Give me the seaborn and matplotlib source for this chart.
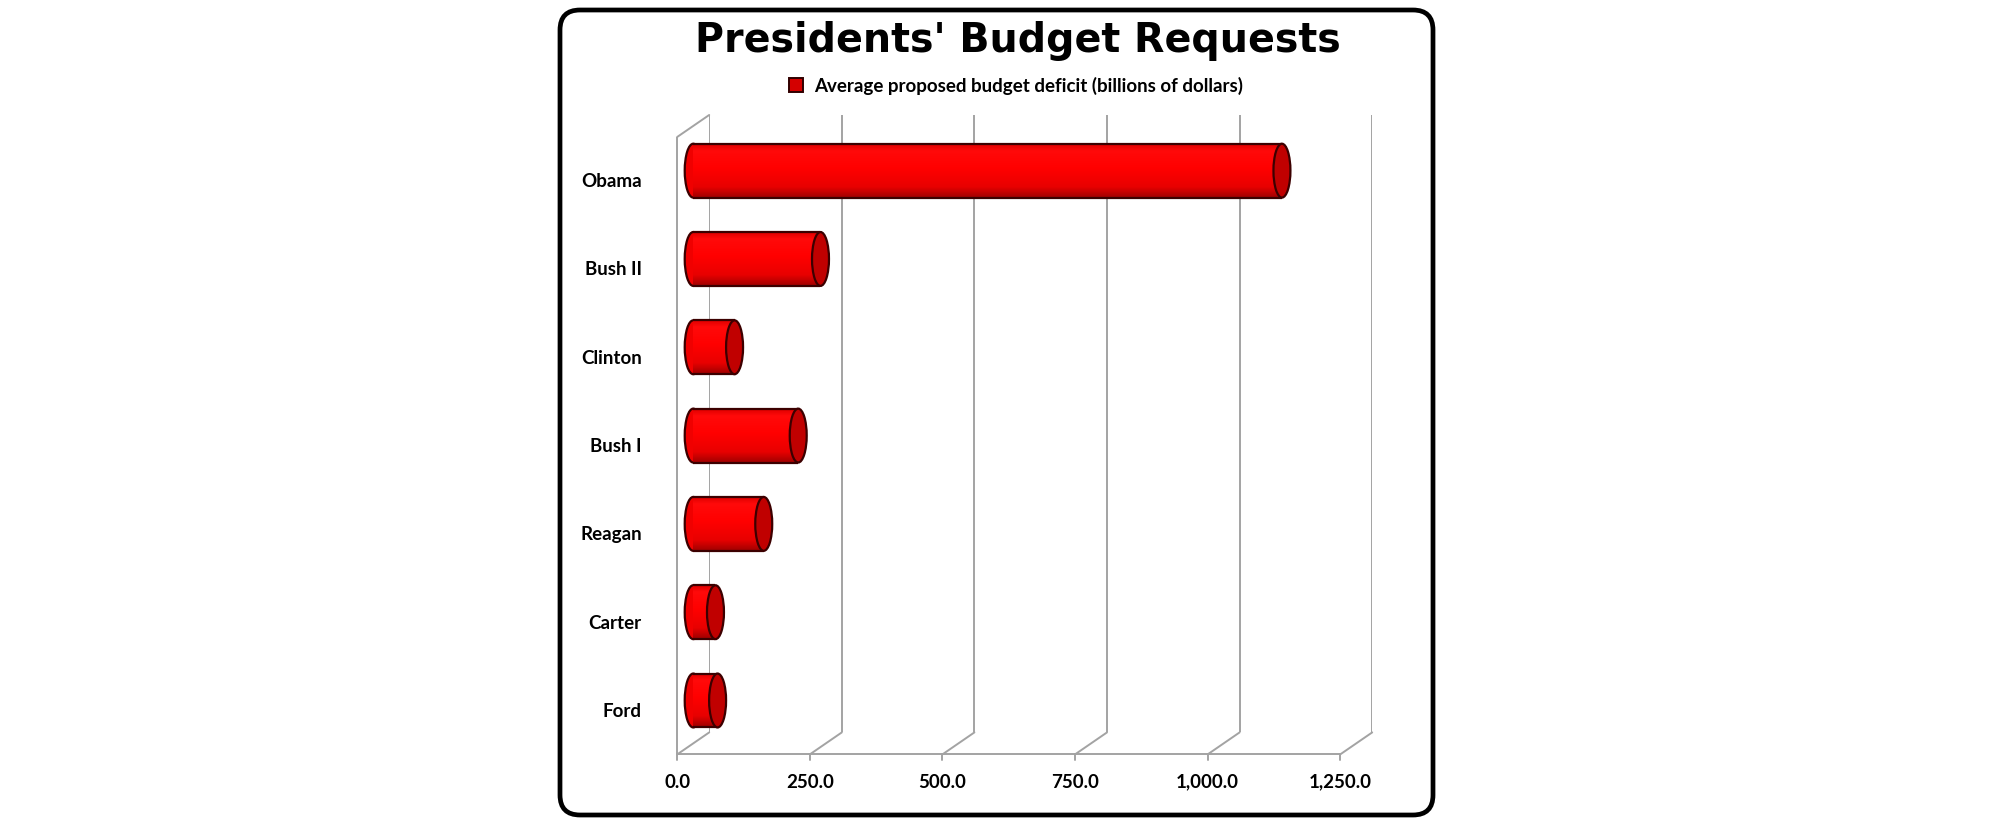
import numpy as np
import pandas as pd
import matplotlib
matplotlib.use('Agg')
import matplotlib.pyplot as plt
import seaborn as sns
from matplotlib.patches import FancyBboxPatch, Ellipse, Patch
from matplotlib.lines import Line2D
from matplotlib.colors import LinearSegmentedColormap
from matplotlib.transforms import ScaledTranslation, IdentityTransform

# data
presidents = ['Obama', 'Bush II', 'Clinton', 'Bush I', 'Reagan', 'Carter', 'Ford']
deficits = [1110, 240, 78, 198, 133, 42, 46]
ticks = [0, 250, 500, 750, 1000, 1250]
tick_labels = ['0.0', '250.0', '500.0', '750.0', '1,000.0', '1,250.0']
legend_label = 'Average proposed budget deficit (billions of dollars)'

sns.set_style('white')
plt.rcParams['font.family'] = ['Lato', 'DejaVu Sans']
plt.rcParams['text.color'] = 'black'

RED = '#ff0000'
DARK = '#3c0000'
GRID = '#a3a3a3'
DX, DY = 32, 22     # 3d depth offset in pixels
CAP_W = 32          # width of cylinder end cap, in data units
BAR_H = 0.61

shade = LinearSegmentedColormap.from_list(
    'cyl', [(0, '#e00000'), (0.12, '#ff0a0a'), (0.45, '#ff0000'), (0.8, '#e80000'), (1, '#a00000')])

fig = plt.figure(figsize=(20, 8.38), dpi=100)

# background + rounded frame
bg = fig.add_axes([0, 0, 1, 1], zorder=-5)
bg.set_xlim(0, 2000)
bg.set_ylim(838, 0)
bg.axis('off')
bg.add_patch(FancyBboxPatch((560, 10), 873, 805, boxstyle='round,pad=0,rounding_size=20',
                            fc='white', ec='black', lw=3.4))

ax = fig.add_axes([0.3546, 0.126, 0.3315, 0.7368])
ax.patch.set_alpha(0)
df = pd.DataFrame({'president': presidents, 'deficit': deficits})
sns.barplot(data=df, x='deficit', y='president', orient='h', color=RED, saturation=1,
            width=BAR_H, linewidth=0, ax=ax)


def shifted(f):
    return ax.transData + ScaledTranslation(-DX * f / 100, -DY * f / 100, fig.dpi_scale_trans)


mid = shifted(0.5)
front = shifted(1.0)

# bars sit half way into the depth
bars = list(ax.patches)
grad = np.linspace(0, 1, 64).reshape(-1, 1)
for i, (p, v) in enumerate(zip(bars, deficits)):
    p.set_transform(mid)
    p.set_clip_on(False)
    im = ax.imshow(grad, cmap=shade, aspect='auto', interpolation='bilinear',
                   extent=(0, v, i + BAR_H / 2, i - BAR_H / 2), origin='upper',
                   transform=mid, zorder=1.01)
    im.set_clip_path(p)
    ax.add_patch(Ellipse((0, i), CAP_W, BAR_H, transform=mid, fc='#f00000', ec=DARK, lw=1.6,
                         zorder=0.9, clip_on=False))
    ax.hlines([i - BAR_H / 2, i + BAR_H / 2], 0, v, colors=DARK, lw=1.6, transform=mid,
              zorder=1.05, clip_on=False)
    ax.add_patch(Ellipse((v, i), CAP_W, BAR_H, transform=mid, fc='#c00000', ec=DARK, lw=1.6,
                         zorder=1.1, clip_on=False))

ytop, ybot = -0.506, 6.486
ax.set_xlim(0, 1250)
ax.set_ylim(ybot, ytop)
ax.axis('off')

# back wall gridlines
ax.vlines(ticks, ybot, ytop, colors=GRID, lw=1.4, zorder=0.5)
# left wall front edge and front floor edge
ax.vlines(0, ybot, ytop, colors=GRID, lw=1.4, transform=front, zorder=0.5, clip_on=False)
ax.hlines(ybot, 0, 1250, colors=GRID, lw=1.4, transform=front, zorder=0.5, clip_on=False)
ax.set_xlim(0, 1250)
ax.set_ylim(ybot, ytop)

# diagonals from back wall to front
pts = [(0, ytop)] + [(t, ybot) for t in ticks]
for x, y in pts:
    bx, by = ax.transData.transform((x, y))
    fig.add_artist(Line2D([bx, bx - DX], [by, by - DY], color=GRID, lw=1.4,
                          transform=IdentityTransform()))

# small tick marks and labels on the front axis
for t, lab in zip(ticks, tick_labels):
    bx, by = ax.transData.transform((t, ybot))
    fig.add_artist(Line2D([bx - DX, bx - DX], [by - DY, by - DY - 6], color=GRID,
                          lw=1.4, transform=IdentityTransform()))
    ax.annotate(lab, (t, ybot), xycoords=front, xytext=(0, -20), textcoords='offset points',
                ha='center', va='center', fontsize=13.5, fontweight='bold', annotation_clip=False)

for i, name in enumerate(presidents):
    ax.annotate(name, (0, i), xycoords=front, xytext=(-25.5, 0), textcoords='offset points',
                ha='right', va='center', fontsize=13.5, fontweight='bold', annotation_clip=False)

fig.text(0.509, 0.951, "Presidents' Budget Requests", ha='center', va='center',
         fontsize=28.5, fontweight='bold', family='DejaVu Sans', color='black')

fig.legend(handles=[Patch(fc='#d40000', ec='#300000', lw=1.4)], labels=[legend_label],
           loc='center', bbox_to_anchor=(0.508, 0.898), frameon=False, handlelength=0.75,
           handleheight=0.75, handletextpad=0.6,
           prop={'family': 'Lato', 'weight': 'bold', 'size': 13.5})

fig.savefig('out.png', dpi=100, facecolor='white')
